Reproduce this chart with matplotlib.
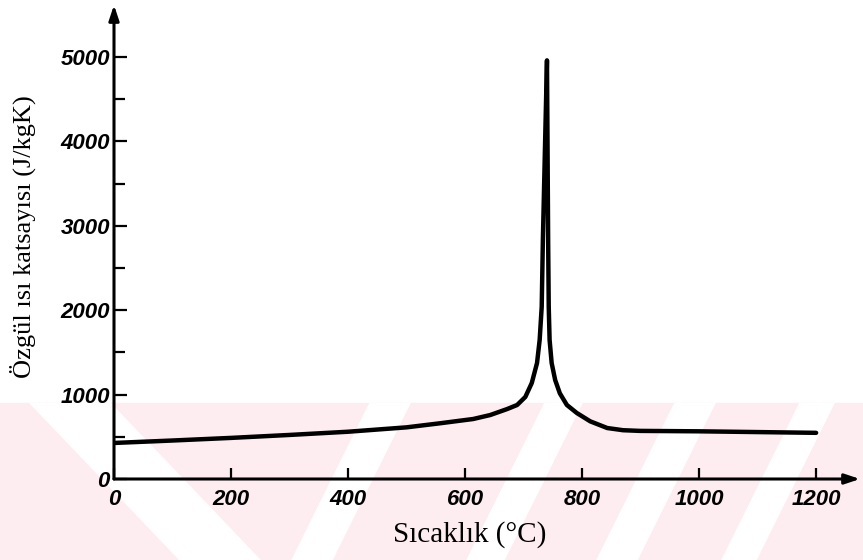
import matplotlib
matplotlib.use("Agg")
import matplotlib.pyplot as plt
from matplotlib.patches import Polygon, Rectangle

# specific heat of steel
temperature = [0, 100, 200, 300, 400, 500, 557, 614, 643, 672, 689, 703, 714, 723, 727.5, 731,
               733, 736.5, 740, 741, 742, 743, 744.5, 748, 754, 762, 774, 791, 814, 843, 870, 899,
               1000, 1100, 1200]
specific_heat = [427, 456, 487, 522, 560, 612, 660, 711, 758, 829, 877, 972, 1137, 1374, 1647, 2040,
                 2830, 3900, 4960, 3900, 2830, 2040, 1647, 1374, 1173, 1015, 877, 782, 683, 604, 578, 570,
                 565, 556, 547]
x_ticks = [0, 200, 400, 600, 800, 1000, 1200]
y_ticks = [0, 1000, 2000, 3000, 4000, 5000]
y_minor = [500, 1500, 2500, 3500, 4500]

W, H = 863, 560
fig = plt.figure(figsize=(W / 100, H / 100), dpi=100)

# faint pink watermark in the lower part of the scan (pixel coords -> figure fraction)
def px(points):
    return [(x / W, 1 - y / H) for x, y in points]

clip = Rectangle((0, 0), 1, 1 - 403 / H, transform=fig.transFigure)
band = Rectangle((0, 0), 1, 1 - 403 / H, transform=fig.transFigure, color="#fdedf0", zorder=-2)
fig.patches.append(band)
white_stripes = [
    [(30, 403), (110, 403), (260, 560), (180, 560)],
    [(370, 403), (410, 403), (332, 560), (292, 560)],
    [(545, 403), (582, 403), (504, 560), (467, 560)],
    [(675, 403), (715, 403), (637, 560), (597, 560)],
    [(800, 403), (834, 403), (756, 560), (722, 560)],
]
for stripe in white_stripes:
    poly = Polygon(px(stripe), closed=True, transform=fig.transFigure, color="white", zorder=-1)
    poly.set_clip_path(clip)
    fig.patches.append(poly)

ax = fig.add_axes([114 / W, 81 / H, (860 - 114) / W, (479 - 5) / H])
ax.patch.set_visible(False)
ax.set_xlim(0, 1275)
ax.set_ylim(0, 5616)
for side in ["top", "right", "left", "bottom"]:
    ax.spines[side].set_visible(False)

# axes drawn as arrows
arrow = dict(arrowstyle="-|>,head_length=0.9,head_width=0.3", lw=2.2, color="black",
             shrinkA=0, shrinkB=0)
ax.annotate("", xy=(1, 0), xytext=(0, 0), xycoords="axes fraction", arrowprops=arrow)
ax.annotate("", xy=(0, 1), xytext=(0, 0), xycoords="axes fraction", arrowprops=arrow)

ax.plot(temperature, specific_heat, color="black", linewidth=3.2, solid_capstyle="round",
        solid_joinstyle="round")

tick_font = dict(family="Liberation Sans", weight="bold", style="italic", size=16)
ax.set_xticks(x_ticks)
ax.set_xticklabels([str(v) for v in x_ticks], fontdict=tick_font)
ax.set_yticks(y_ticks)
ax.set_yticklabels([str(v) for v in y_ticks], fontdict=tick_font)
ax.set_yticks(y_minor, minor=True)
ax.tick_params(axis="x", direction="in", length=8, width=1.6, pad=7)
ax.tick_params(axis="y", direction="in", length=9, width=1.6, pad=3)
ax.tick_params(axis="y", which="minor", direction="in", length=8, width=1.6)

fig.text(23 / W, 1 - 237 / H, "Özgül ısı katsayısı (J/kgK)", rotation=90, ha="center", va="center",
         family="Liberation Serif", size=19)
fig.text(470 / W, 1 - 535 / H, "Sıcaklık (°C)", ha="center", va="center",
         family="Liberation Serif", size=21)

fig.savefig("out.png", dpi=100)
